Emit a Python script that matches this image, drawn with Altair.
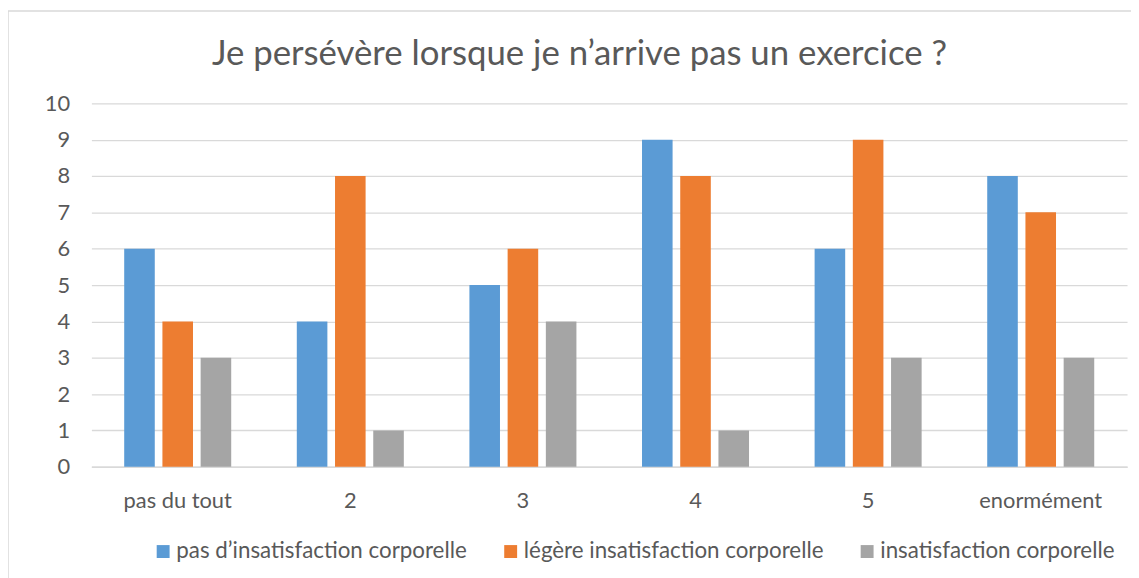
import altair as alt
import pandas as pd

categories = ["pas du tout", "2", "3", "4", "5", "enormément"]
series = ["pas d’insatisfaction corporelle", "légère insatisfaction corporelle", "insatisfaction corporelle"]
blue_vals = [6, 4, 5, 9, 6, 8]
orange_vals = [4, 8, 6, 8, 9, 7]
gray_vals = [3, 1, 4, 1, 3, 3]
colors = ["#5B9BD5", "#ED7D31", "#A5A5A5"]
title_text = "Je persévère lorsque je n’arrive pas un exercice ?"

rows = []
for s, vals in zip(series, [blue_vals, orange_vals, gray_vals]):
    for c, v in zip(categories, vals):
        rows.append({"cat": c, "serie": s, "val": v})
df = pd.DataFrame(rows)

FONT = "Lato"
TXT = "#595959"

bars = alt.Chart(df).mark_bar().encode(
    x=alt.X("cat:N", sort=categories, title=None,
            scale=alt.Scale(paddingInner=0.38, paddingOuter=0.19),
            axis=alt.Axis(labelAngle=0, domain=True, domainColor="#D9D9D9", domainWidth=1.5,
                          ticks=False, labelPadding=24, labelFontSize=22, labelColor=TXT,
                          labelFont=FONT, grid=False)),
    xOffset=alt.XOffset("serie:N", sort=series,
                        scale=alt.Scale(paddingInner=0.2, paddingOuter=0)),
    y=alt.Y("val:Q", title=None, scale=alt.Scale(domain=[0, 10]),
            axis=alt.Axis(values=list(range(0, 11)), domain=False, ticks=False,
                          labelPadding=22, labelFontSize=22, labelColor=TXT, labelFont=FONT,
                          grid=True, gridColor="#D9D9D9", gridWidth=1.3)),
    color=alt.Color("serie:N", sort=series,
                    scale=alt.Scale(domain=series, range=colors),
                    legend=alt.Legend(title=None, orient="none", direction="horizontal",
                                      legendX=61, legendY=440, symbolType="square",
                                      symbolSize=169, symbolStrokeWidth=0,
                                      labelFontSize=22.5, labelColor=TXT, labelFont=FONT,
                                      labelOffset=2, columnPadding=32, labelLimit=500)),
)

border = alt.Chart(pd.DataFrame({"a": [0]})).mark_rect(
    fill=None, stroke="#D9D9D9", strokeWidth=1.5
).encode(
    x=alt.value(-84), x2=alt.value(1070), y=alt.value(-93), y2=alt.value(520)
)

chart = alt.layer(border, bars).properties(
    width=1043, height=366,
    title=alt.TitleParams(title_text, fontSize=35, font=FONT, color=TXT, fontWeight="normal",
                          anchor="middle", dx=-30, baseline="middle", offset=-79),
    padding={"left": 84, "top": 94, "right": 4, "bottom": 110},
    autosize=alt.AutoSizeParams(type="none"),
).configure_view(stroke=None)

chart.save("out.html", embed_options={"renderer": "svg", "actions": False})
